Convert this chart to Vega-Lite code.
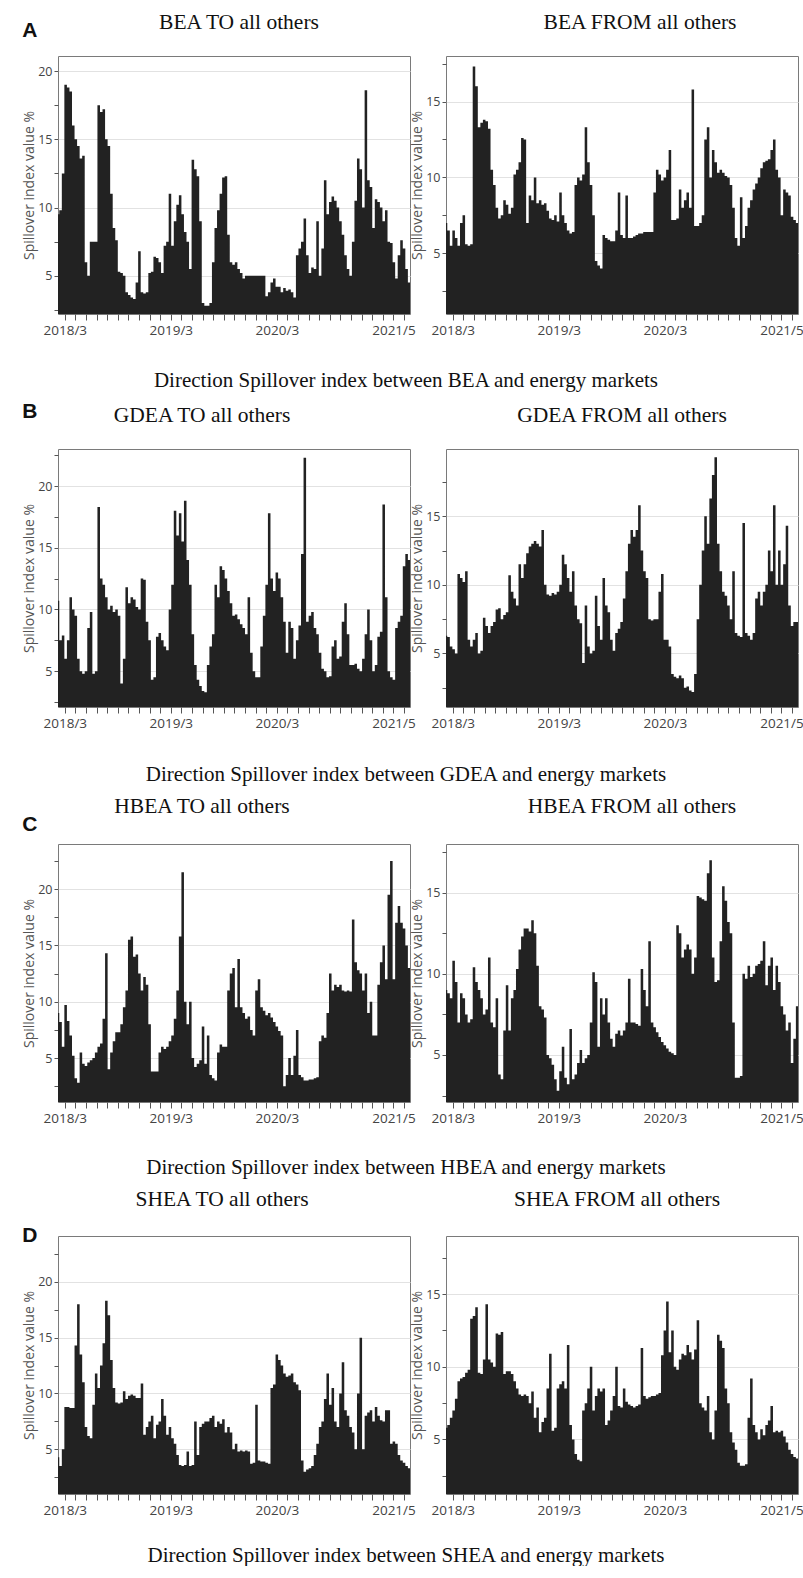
{
"$schema":"https://vega.github.io/schema/vega-lite/v6.json",
"background":"white",
"padding":{"left":22,"top":11,"right":0,"bottom":0},
"spacing":10,
"config":{
 "view":{"stroke":"#7a7a7a","strokeWidth":1},
 "title":{"font":"Liberation Serif","fontSize":21.5,"fontWeight":"normal","color":"#111","baseline":"alphabetic"},
 "axis":{"domain":false,"labelFont":"Open Sans","labelColor":"#444","tickColor":"#555","titleFont":"Open Sans","titleFontWeight":"normal","titleColor":"#555"},
 "axisX":{"grid":false,"tickSize":6,"labelFontSize":13.5,"labelPadding":3,"labelOverlap":false,"labelFlush":false},
 "axisY":{"tickSize":4,"labelFontSize":12.5,"labelPadding":2,"titleFontSize":14,"titlePadding":1,"labelOverlap":false}
},
"data":{"values":[
{"t":-16,"a1":9.5,"a2":7,"b1":10.7,"b2":6.3,"c1":9,"c2":9,"d1":4.3,"d2":5.8},
{"t":-10,"a1":9.8,"a2":6.5,"b1":7.5,"b2":6.2,"c1":8.2,"c2":8.8,"d1":3.5,"d2":6},
{"t":-4,"a1":12.5,"a2":5.5,"b1":7.9,"b2":5.5,"c1":6,"c2":8.5,"d1":5,"d2":6.5},
{"t":2,"a1":19,"a2":6.5,"b1":6,"b2":5.3,"c1":9.7,"c2":10.8,"d1":8.8,"d2":7},
{"t":8,"a1":18.8,"a2":6,"b1":7.5,"b2":5,"c1":8.3,"c2":9.5,"d1":8.8,"d2":7.8},
{"t":14,"a1":18.5,"a2":5.5,"b1":11,"b2":10.8,"c1":7,"c2":7,"d1":8.7,"d2":9},
{"t":20,"a1":16,"a2":7,"b1":10,"b2":10.5,"c1":5.2,"c2":8.8,"d1":8.7,"d2":9.2},
{"t":26,"a1":15,"a2":7.5,"b1":9.5,"b2":10.2,"c1":3.2,"c2":8.5,"d1":14.3,"d2":9.3},
{"t":32,"a1":14.5,"a2":5.6,"b1":6,"b2":11,"c1":2.8,"c2":7.5,"d1":18,"d2":9.6},
{"t":38,"a1":13.6,"a2":5.5,"b1":5,"b2":6,"c1":5.5,"c2":7,"d1":13.5,"d2":9.8},
{"t":44,"a1":13.8,"a2":5.6,"b1":4.8,"b2":5.5,"c1":4.5,"c2":7.2,"d1":11,"d2":13.3},
{"t":50,"a1":6,"a2":17.3,"b1":5,"b2":6,"c1":4.3,"c2":10.4,"d1":7,"d2":13.5},
{"t":56,"a1":5,"a2":16,"b1":8.5,"b2":6.5,"c1":4.6,"c2":9.5,"d1":6.2,"d2":14.1},
{"t":62,"a1":7.5,"a2":13.3,"b1":9.8,"b2":5,"c1":4.8,"c2":9,"d1":6,"d2":9.6},
{"t":68,"a1":7.5,"a2":13.6,"b1":4.8,"b2":5.2,"c1":5,"c2":8.5,"d1":9,"d2":9.5},
{"t":74,"a1":7.5,"a2":13.8,"b1":5,"b2":7.6,"c1":5.5,"c2":7.5,"d1":11.8,"d2":10.5},
{"t":80,"a1":17.5,"a2":13.7,"b1":18.3,"b2":7,"c1":6,"c2":7.8,"d1":10.5,"d2":14.3},
{"t":86,"a1":17,"a2":13.2,"b1":12.5,"b2":6.5,"c1":6.3,"c2":11,"d1":12.5,"d2":10.5},
{"t":92,"a1":17.2,"a2":10.5,"b1":12,"b2":7,"c1":8.5,"c2":7,"d1":14.5,"d2":10.3},
{"t":98,"a1":15,"a2":9.5,"b1":11,"b2":7.3,"c1":14.3,"c2":6.7,"d1":18.3,"d2":10},
{"t":104,"a1":14.5,"a2":8,"b1":10,"b2":8.2,"c1":4,"c2":8.5,"d1":17,"d2":12.3},
{"t":110,"a1":11,"a2":7.3,"b1":10.3,"b2":8.3,"c1":5.5,"c2":3.8,"d1":13,"d2":12.2},
{"t":116,"a1":8.5,"a2":7.5,"b1":9.8,"b2":7.5,"c1":6.5,"c2":3.5,"d1":10.5,"d2":12.4},
{"t":122,"a1":7.6,"a2":8.5,"b1":10,"b2":7.8,"c1":7.3,"c2":6.5,"d1":9.2,"d2":9.5},
{"t":128,"a1":5.3,"a2":8.2,"b1":9.5,"b2":8,"c1":7.3,"c2":9.3,"d1":9.1,"d2":9.7},
{"t":134,"a1":5.2,"a2":7.6,"b1":4,"b2":10.7,"c1":8,"c2":6.5,"d1":9.2,"d2":9.7},
{"t":140,"a1":5,"a2":8,"b1":6,"b2":9.5,"c1":9.5,"c2":8.5,"d1":10.2,"d2":9.5},
{"t":146,"a1":3.8,"a2":10.2,"b1":11.8,"b2":9,"c1":11,"c2":9,"d1":9.5,"d2":9},
{"t":152,"a1":3.6,"a2":10.5,"b1":10.5,"b2":8.5,"c1":15.5,"c2":10.3,"d1":9.8,"d2":8.5},
{"t":158,"a1":3.4,"a2":11,"b1":11,"b2":11.5,"c1":15.8,"c2":11.5,"d1":9.9,"d2":8.1},
{"t":164,"a1":3.3,"a2":12.6,"b1":10.8,"b2":10.5,"c1":14,"c2":12.3,"d1":9.8,"d2":8},
{"t":170,"a1":4.5,"a2":12.5,"b1":10.2,"b2":11.5,"c1":14.2,"c2":12.8,"d1":9.6,"d2":8.1},
{"t":176,"a1":6.8,"a2":7,"b1":10,"b2":12.3,"c1":12.5,"c2":12.8,"d1":9.6,"d2":8},
{"t":182,"a1":3.8,"a2":8.8,"b1":12.5,"b2":12.8,"c1":11,"c2":12.6,"d1":10.9,"d2":7.5},
{"t":188,"a1":3.7,"a2":8.5,"b1":12.4,"b2":13,"c1":12.2,"c2":13.3,"d1":6.3,"d2":8.3},
{"t":194,"a1":3.8,"a2":10,"b1":9,"b2":13.2,"c1":11.5,"c2":12.5,"d1":7,"d2":6.5},
{"t":200,"a1":5.2,"a2":8.3,"b1":7.5,"b2":13,"c1":8,"c2":10.5,"d1":7.5,"d2":7.2},
{"t":206,"a1":5.3,"a2":8.5,"b1":4.3,"b2":12.8,"c1":3.8,"c2":8,"d1":8,"d2":5.5},
{"t":212,"a1":6.4,"a2":8.2,"b1":4.5,"b2":14,"c1":3.8,"c2":7.8,"d1":6,"d2":6.2},
{"t":218,"a1":6.3,"a2":8.3,"b1":7.8,"b2":10,"c1":3.8,"c2":7.3,"d1":7.2,"d2":6.5},
{"t":224,"a1":6,"a2":7.8,"b1":8.1,"b2":9.3,"c1":5.5,"c2":5,"d1":7.5,"d2":8.5},
{"t":230,"a1":5.2,"a2":7.3,"b1":7.5,"b2":9.2,"c1":6,"c2":4.8,"d1":9.5,"d2":10.9},
{"t":236,"a1":7.2,"a2":7.2,"b1":7,"b2":9.4,"c1":5.8,"c2":4.4,"d1":8,"d2":5.6},
{"t":242,"a1":7.5,"a2":7.5,"b1":6.7,"b2":9.3,"c1":6,"c2":3.5,"d1":6.3,"d2":5.8},
{"t":248,"a1":11,"a2":7.1,"b1":10,"b2":9.5,"c1":6.5,"c2":2.8,"d1":7,"d2":8.5},
{"t":254,"a1":7.2,"a2":9,"b1":12,"b2":10,"c1":7,"c2":4,"d1":6,"d2":8.8},
{"t":260,"a1":9,"a2":7.5,"b1":18,"b2":12.2,"c1":8.5,"c2":5.5,"d1":5.5,"d2":9},
{"t":266,"a1":10.2,"a2":7,"b1":16,"b2":11.5,"c1":11,"c2":3.6,"d1":4.5,"d2":8.5},
{"t":272,"a1":10.9,"a2":6.5,"b1":17.8,"b2":10.5,"c1":15.8,"c2":3.2,"d1":3.6,"d2":11.5},
{"t":278,"a1":9.5,"a2":6.3,"b1":15.5,"b2":9.5,"c1":21.5,"c2":6.6,"d1":3.5,"d2":6},
{"t":284,"a1":8.2,"a2":6.4,"b1":18.8,"b2":11,"c1":10,"c2":3.5,"d1":3.6,"d2":5},
{"t":290,"a1":7.5,"a2":9.5,"b1":14,"b2":8.5,"c1":8,"c2":3.8,"d1":4.8,"d2":4},
{"t":296,"a1":5.5,"a2":10,"b1":12,"b2":7.5,"c1":10,"c2":4.5,"d1":3.5,"d2":3.6},
{"t":302,"a1":13.5,"a2":9.8,"b1":8,"b2":7.2,"c1":5,"c2":5.3,"d1":3.6,"d2":3.5},
{"t":308,"a1":12.8,"a2":10.2,"b1":5.5,"b2":4.3,"c1":4.2,"c2":4.5,"d1":7.5,"d2":7},
{"t":314,"a1":12.3,"a2":13.3,"b1":4.3,"b2":8.5,"c1":4.5,"c2":4.8,"d1":4.5,"d2":7.5},
{"t":320,"a1":9,"a2":11,"b1":3.8,"b2":5.5,"c1":4.8,"c2":5,"d1":7,"d2":8.5},
{"t":326,"a1":3,"a2":9.5,"b1":3.4,"b2":5,"c1":7.8,"c2":7,"d1":7.3,"d2":10},
{"t":332,"a1":2.8,"a2":7.5,"b1":3.3,"b2":5.2,"c1":4.5,"c2":10.1,"d1":7.5,"d2":7},
{"t":338,"a1":2.8,"a2":4.5,"b1":5.5,"b2":9.2,"c1":7,"c2":9.5,"d1":7.5,"d2":8},
{"t":344,"a1":3,"a2":4.2,"b1":7,"b2":7,"c1":3.5,"c2":5.5,"d1":7.8,"d2":8.5},
{"t":350,"a1":6,"a2":4,"b1":8,"b2":6,"c1":3.2,"c2":8.5,"d1":8,"d2":8.3},
{"t":356,"a1":8.5,"a2":6.2,"b1":12,"b2":10.5,"c1":3,"c2":7.5,"d1":7,"d2":8.5},
{"t":362,"a1":9.8,"a2":6,"b1":11,"b2":8.5,"c1":5.5,"c2":8.5,"d1":7.5,"d2":6},
{"t":368,"a1":11,"a2":5.9,"b1":13.5,"b2":8,"c1":6.2,"c2":7,"d1":7.3,"d2":6.3},
{"t":374,"a1":12.2,"a2":5.8,"b1":13.2,"b2":6,"c1":6,"c2":6,"d1":7.7,"d2":7},
{"t":380,"a1":12.3,"a2":5.8,"b1":12.5,"b2":5.2,"c1":6,"c2":5.5,"d1":6.5,"d2":8},
{"t":386,"a1":8,"a2":6.5,"b1":11.5,"b2":6.5,"c1":11,"c2":6.3,"d1":7,"d2":10},
{"t":392,"a1":6,"a2":9,"b1":10.5,"b2":6.8,"c1":12.5,"c2":6.5,"d1":6.5,"d2":7.3},
{"t":398,"a1":5.8,"a2":6.2,"b1":9.5,"b2":7.3,"c1":13,"c2":6.2,"d1":5,"d2":7.2},
{"t":404,"a1":6,"a2":6,"b1":9.6,"b2":9,"c1":9.5,"c2":6.5,"d1":5.5,"d2":8.5},
{"t":410,"a1":5.5,"a2":8.8,"b1":9.2,"b2":11,"c1":13.8,"c2":7,"d1":4.8,"d2":7.6},
{"t":416,"a1":5.2,"a2":6,"b1":8.8,"b2":13,"c1":9.5,"c2":9.7,"d1":4.9,"d2":7.4},
{"t":422,"a1":4.8,"a2":6,"b1":8.5,"b2":14,"c1":9,"c2":7,"d1":4.8,"d2":7.3},
{"t":428,"a1":5,"a2":6.1,"b1":8,"b2":13.5,"c1":8.5,"c2":7,"d1":4.9,"d2":7.2},
{"t":434,"a1":5,"a2":6.2,"b1":11,"b2":14,"c1":8.7,"c2":6.9,"d1":4.8,"d2":7.3},
{"t":440,"a1":5,"a2":6.3,"b1":6.5,"b2":15.8,"c1":7.5,"c2":6.8,"d1":3.7,"d2":7.4},
{"t":446,"a1":5,"a2":6.3,"b1":5,"b2":12.5,"c1":7,"c2":10.3,"d1":3.8,"d2":11.3},
{"t":452,"a1":5,"a2":6.4,"b1":4.5,"b2":11,"c1":11,"c2":9,"d1":9,"d2":8},
{"t":458,"a1":5,"a2":6.4,"b1":4.5,"b2":10.5,"c1":12,"c2":8,"d1":4,"d2":7.8},
{"t":464,"a1":5,"a2":6.4,"b1":7,"b2":7.5,"c1":9.5,"c2":12,"d1":3.9,"d2":7.9},
{"t":470,"a1":5,"a2":6.4,"b1":9.5,"b2":7.4,"c1":9.2,"c2":7,"d1":3.9,"d2":8},
{"t":476,"a1":3.5,"a2":9,"b1":12,"b2":7.5,"c1":8.8,"c2":6.7,"d1":3.8,"d2":8},
{"t":482,"a1":3.8,"a2":10.5,"b1":17.8,"b2":7.5,"c1":9,"c2":6.4,"d1":3.7,"d2":8.1},
{"t":488,"a1":4.5,"a2":10.2,"b1":12.5,"b2":9.5,"c1":8.6,"c2":6.1,"d1":10.5,"d2":8.2},
{"t":494,"a1":4.8,"a2":9.8,"b1":11.5,"b2":10.8,"c1":8.2,"c2":5.8,"d1":10.8,"d2":10.8},
{"t":500,"a1":4.2,"a2":10,"b1":13,"b2":6,"c1":7.8,"c2":5.6,"d1":13.5,"d2":12.5},
{"t":506,"a1":4.2,"a2":10.5,"b1":12.5,"b2":6,"c1":7.4,"c2":5.4,"d1":13,"d2":14.5},
{"t":512,"a1":3.8,"a2":11.8,"b1":11,"b2":5.5,"c1":7,"c2":5.2,"d1":12.5,"d2":11},
{"t":518,"a1":4.1,"a2":7.2,"b1":9,"b2":3.5,"c1":2.5,"c2":5.1,"d1":11.8,"d2":12.5},
{"t":524,"a1":3.9,"a2":7.2,"b1":6.5,"b2":3.3,"c1":3.5,"c2":5,"d1":11.5,"d2":10},
{"t":530,"a1":4,"a2":7.3,"b1":9,"b2":3.2,"c1":5,"c2":13,"d1":11.6,"d2":9.8},
{"t":536,"a1":3.8,"a2":9.2,"b1":8.5,"b2":3.4,"c1":3.5,"c2":12.5,"d1":11.8,"d2":10.5},
{"t":542,"a1":3.4,"a2":8,"b1":6,"b2":3.2,"c1":5.2,"c2":11,"d1":11,"d2":10.9},
{"t":548,"a1":6.5,"a2":8.5,"b1":7.5,"b2":2.5,"c1":7.5,"c2":11.5,"d1":10.8,"d2":10.8},
{"t":554,"a1":7,"a2":9,"b1":8.7,"b2":2.6,"c1":3.5,"c2":11.8,"d1":10.3,"d2":11.5},
{"t":560,"a1":7.5,"a2":8,"b1":14.5,"b2":2.3,"c1":3.3,"c2":11.5,"d1":4,"d2":11},
{"t":566,"a1":9.2,"a2":15.8,"b1":22.3,"b2":2.2,"c1":3,"c2":10,"d1":3,"d2":10.5},
{"t":572,"a1":6.5,"a2":6.8,"b1":9,"b2":3.5,"c1":3,"c2":11,"d1":3.2,"d2":11.2},
{"t":578,"a1":5.2,"a2":6.8,"b1":9.5,"b2":7.5,"c1":3.1,"c2":14.8,"d1":3.3,"d2":13.2},
{"t":584,"a1":5.6,"a2":7,"b1":9.8,"b2":10,"c1":3.1,"c2":14.7,"d1":3.5,"d2":7.5},
{"t":590,"a1":5.5,"a2":7.5,"b1":8.5,"b2":12.5,"c1":3.2,"c2":14.6,"d1":4.5,"d2":7.2},
{"t":596,"a1":9,"a2":12.5,"b1":8,"b2":15,"c1":3.3,"c2":14.5,"d1":5.5,"d2":7},
{"t":602,"a1":5,"a2":13.3,"b1":6.5,"b2":13,"c1":6.5,"c2":16.2,"d1":7,"d2":8},
{"t":608,"a1":7,"a2":10,"b1":5.2,"b2":16.3,"c1":7,"c2":17,"d1":7.5,"d2":5.5},
{"t":614,"a1":12,"a2":11.8,"b1":5,"b2":18,"c1":6.8,"c2":11,"d1":9.5,"d2":5},
{"t":620,"a1":9.5,"a2":11,"b1":4.5,"b2":19.3,"c1":9,"c2":9.5,"d1":11.8,"d2":7},
{"t":626,"a1":10.4,"a2":10.3,"b1":4.6,"b2":13,"c1":12.5,"c2":9.6,"d1":9,"d2":12.2},
{"t":632,"a1":10.8,"a2":10.5,"b1":7,"b2":11,"c1":11,"c2":12,"d1":10.5,"d2":11.8},
{"t":638,"a1":10.5,"a2":10.3,"b1":7.5,"b2":9.5,"c1":11.5,"c2":15.4,"d1":7.5,"d2":11.3},
{"t":644,"a1":10,"a2":10.1,"b1":6,"b2":9.2,"c1":11.3,"c2":14.5,"d1":7,"d2":8.5},
{"t":650,"a1":9,"a2":10,"b1":6.2,"b2":8.5,"c1":11.5,"c2":13.2,"d1":10,"d2":7.5},
{"t":656,"a1":8,"a2":9.5,"b1":9,"b2":7.5,"c1":11,"c2":12.5,"d1":12.8,"d2":5.5},
{"t":662,"a1":6.5,"a2":8,"b1":10.5,"b2":11,"c1":10.9,"c2":7,"d1":8.5,"d2":4.8},
{"t":668,"a1":5.5,"a2":6,"b1":8,"b2":6.5,"c1":11,"c2":3.6,"d1":8,"d2":4.3},
{"t":674,"a1":5,"a2":5.5,"b1":5.5,"b2":6.3,"c1":10.9,"c2":3.6,"d1":7,"d2":3.4},
{"t":680,"a1":7.5,"a2":8.7,"b1":5.5,"b2":6.2,"c1":17.3,"c2":3.7,"d1":6.5,"d2":3.2},
{"t":686,"a1":10.5,"a2":6,"b1":5.6,"b2":14.5,"c1":13.5,"c2":10,"d1":5,"d2":3.2},
{"t":692,"a1":13.6,"a2":6.8,"b1":5.2,"b2":6.5,"c1":12.8,"c2":9.7,"d1":10,"d2":3.3},
{"t":698,"a1":12.8,"a2":8,"b1":5,"b2":6.3,"c1":12.5,"c2":10.5,"d1":15,"d2":6.5},
{"t":704,"a1":10,"a2":8.5,"b1":6,"b2":6,"c1":11,"c2":9.8,"d1":5,"d2":9.2},
{"t":710,"a1":18.6,"a2":9.2,"b1":8,"b2":6.5,"c1":12.5,"c2":10,"d1":8,"d2":6},
{"t":716,"a1":12,"a2":9.6,"b1":10,"b2":9,"c1":9,"c2":10.5,"d1":8.3,"d2":5.5},
{"t":722,"a1":11.5,"a2":10,"b1":7.5,"b2":9.5,"c1":10,"c2":10.6,"d1":8.5,"d2":5},
{"t":728,"a1":8.5,"a2":10.6,"b1":5,"b2":8.5,"c1":7,"c2":10.8,"d1":7.5,"d2":5.7},
{"t":734,"a1":10.6,"a2":11,"b1":5.5,"b2":9.5,"c1":7,"c2":12,"d1":8.8,"d2":5.3},
{"t":740,"a1":10.4,"a2":11.1,"b1":7.8,"b2":10,"c1":11.5,"c2":9.3,"d1":8,"d2":6},
{"t":746,"a1":10,"a2":11.2,"b1":8.2,"b2":12.5,"c1":13.5,"c2":10.5,"d1":7.6,"d2":6.3},
{"t":752,"a1":9,"a2":11.8,"b1":18.5,"b2":11,"c1":15,"c2":11,"d1":7.5,"d2":7.3},
{"t":758,"a1":9.8,"a2":12.5,"b1":11,"b2":15.8,"c1":12,"c2":9,"d1":8.5,"d2":5.5},
{"t":764,"a1":7.5,"a2":10.5,"b1":5,"b2":10,"c1":19.5,"c2":10.5,"d1":8.5,"d2":5.6},
{"t":770,"a1":7.4,"a2":10,"b1":4.5,"b2":12.5,"c1":22.5,"c2":9.5,"d1":5.5,"d2":5.5},
{"t":776,"a1":6,"a2":7.5,"b1":4.3,"b2":10,"c1":12,"c2":8,"d1":5.7,"d2":5.6},
{"t":782,"a1":4.8,"a2":9.2,"b1":8.5,"b2":11.5,"c1":17,"c2":7.5,"d1":5.5,"d2":5.2},
{"t":788,"a1":6.5,"a2":9,"b1":9,"b2":14.3,"c1":18.5,"c2":6.5,"d1":4.5,"d2":4.8},
{"t":794,"a1":7.6,"a2":8.8,"b1":9.5,"b2":8.5,"c1":17,"c2":7,"d1":4,"d2":4.3},
{"t":800,"a1":7,"a2":7.4,"b1":13.5,"b2":7,"c1":16.5,"c2":4.5,"d1":3.8,"d2":4},
{"t":806,"a1":5.5,"a2":7.2,"b1":14.5,"b2":7.3,"c1":15,"c2":6,"d1":3.5,"d2":3.8},
{"t":812,"a1":4.5,"a2":7,"b1":14,"b2":7.3,"c1":13,"c2":8,"d1":3.3,"d2":3.7},
{"t":814,"a1":4.5,"a2":7,"b1":14,"b2":7.3,"c1":13,"c2":8,"d1":3.3,"d2":3.7}
]},
"vconcat":[
{"title":{"text":"Direction Spillover index between BEA and energy markets","orient":"bottom","anchor":"middle","fontSize":21,"offset":33,"dx":-7},
 "vconcat":[{
  "title":{"text":"A","anchor":"start","frame":"bounds","font":"Liberation Sans","fontWeight":"bold","fontSize":21,"offset":0,"dy":30},
  "spacing":36,"bounds":"flush",
  "hconcat":[
   {"width":352,"height":258,"title":{"text":"BEA TO all others","frame":"group","dx":5,"offset":23},
    "mark":{"type":"area","interpolate":"step","color":"#222","clip":true},
    "encoding":{
     "x":{"field":"t","type":"quantitative","scale":{"domain":[-16,814],"nice":false,"zero":false},"axis":{"title":null,"values":[0,25,50,75,100,125,150,175,200,225,250,275,300,325,350,375,400,425,450,475,500,525,550,575,600,625,650,675,700,725,750,775,800],"labelExpr":"datum.value===0?'2018/3':datum.value===250?'2019/3':datum.value===500?'2020/3':datum.value===775?'2021/5':''"}},
     "y":{"field":"a1","type":"quantitative","scale":{"domain":[2.2,21.1],"nice":false,"zero":false},"axis":{"title":"Spillover index value %","values":[2.5,5,7.5,10,12.5,15,17.5,20],"labelExpr":"datum.value % 5 === 0 ? datum.label : ''","gridColor":{"condition":{"test":"datum.value % 5 === 0","value":"#e2e2e2"},"value":"rgba(0,0,0,0)"}}}}},
   {"width":352,"height":258,"title":{"text":"BEA FROM all others","frame":"group","dx":18,"offset":23},
    "mark":{"type":"area","interpolate":"step","color":"#222","clip":true},
    "encoding":{
     "x":{"field":"t","type":"quantitative","scale":{"domain":[-16,814],"nice":false,"zero":false},"axis":{"title":null,"values":[0,25,50,75,100,125,150,175,200,225,250,275,300,325,350,375,400,425,450,475,500,525,550,575,600,625,650,675,700,725,750,775,800],"labelExpr":"datum.value===0?'2018/3':datum.value===250?'2019/3':datum.value===500?'2020/3':datum.value===775?'2021/5':''"}},
     "y":{"field":"a2","type":"quantitative","scale":{"domain":[1.0,18.0],"nice":false,"zero":false},"axis":{"title":"Spillover index value %","values":[2.5,5,7.5,10,12.5,15,17.5],"labelExpr":"datum.value % 5 === 0 ? datum.label : ''","gridColor":{"condition":{"test":"datum.value % 5 === 0","value":"#e2e2e2"},"value":"rgba(0,0,0,0)"}}}}}
  ]}]},
{"title":{"text":"Direction Spillover index between GDEA and energy markets","orient":"bottom","anchor":"middle","fontSize":21,"offset":34,"dx":-7},
 "vconcat":[{
  "title":{"text":"B","anchor":"start","frame":"bounds","font":"Liberation Sans","fontWeight":"bold","fontSize":21,"offset":0,"dy":18},
  "spacing":36,"bounds":"flush",
  "hconcat":[
   {"width":352,"height":258,"title":{"text":"GDEA TO all others","frame":"group","dx":-32,"offset":23},
    "mark":{"type":"area","interpolate":"step","color":"#222","clip":true},
    "encoding":{
     "x":{"field":"t","type":"quantitative","scale":{"domain":[-16,814],"nice":false,"zero":false},"axis":{"title":null,"values":[0,25,50,75,100,125,150,175,200,225,250,275,300,325,350,375,400,425,450,475,500,525,550,575,600,625,650,675,700,725,750,775,800],"labelExpr":"datum.value===0?'2018/3':datum.value===250?'2019/3':datum.value===500?'2020/3':datum.value===775?'2021/5':''"}},
     "y":{"field":"b1","type":"quantitative","scale":{"domain":[2.1,23.0],"nice":false,"zero":false},"axis":{"title":"Spillover index value %","values":[2.5,5,7.5,10,12.5,15,17.5,20,22.5],"labelExpr":"datum.value % 5 === 0 ? datum.label : ''","gridColor":{"condition":{"test":"datum.value % 5 === 0","value":"#e2e2e2"},"value":"rgba(0,0,0,0)"}}}}},
   {"width":352,"height":258,"title":{"text":"GDEA FROM all others","frame":"group","dx":0,"offset":23},
    "mark":{"type":"area","interpolate":"step","color":"#222","clip":true},
    "encoding":{
     "x":{"field":"t","type":"quantitative","scale":{"domain":[-16,814],"nice":false,"zero":false},"axis":{"title":null,"values":[0,25,50,75,100,125,150,175,200,225,250,275,300,325,350,375,400,425,450,475,500,525,550,575,600,625,650,675,700,725,750,775,800],"labelExpr":"datum.value===0?'2018/3':datum.value===250?'2019/3':datum.value===500?'2020/3':datum.value===775?'2021/5':''"}},
     "y":{"field":"b2","type":"quantitative","scale":{"domain":[1.1,19.9],"nice":false,"zero":false},"axis":{"title":"Spillover index value %","values":[2.5,5,7.5,10,12.5,15,17.5],"labelExpr":"datum.value % 5 === 0 ? datum.label : ''","gridColor":{"condition":{"test":"datum.value % 5 === 0","value":"#e2e2e2"},"value":"rgba(0,0,0,0)"}}}}}
  ]}]},
{"title":{"text":"Direction Spillover index between HBEA and energy markets","orient":"bottom","anchor":"middle","fontSize":21,"offset":32,"dx":-7},
 "vconcat":[{
  "title":{"text":"C","anchor":"start","frame":"bounds","font":"Liberation Sans","fontWeight":"bold","fontSize":21,"offset":0,"dy":40},
  "spacing":36,"bounds":"flush",
  "hconcat":[
   {"width":352,"height":258,"title":{"text":"HBEA TO all others","frame":"group","dx":-32,"offset":27},
    "mark":{"type":"area","interpolate":"step","color":"#222","clip":true},
    "encoding":{
     "x":{"field":"t","type":"quantitative","scale":{"domain":[-16,814],"nice":false,"zero":false},"axis":{"title":null,"values":[0,25,50,75,100,125,150,175,200,225,250,275,300,325,350,375,400,425,450,475,500,525,550,575,600,625,650,675,700,725,750,775,800],"labelExpr":"datum.value===0?'2018/3':datum.value===250?'2019/3':datum.value===500?'2020/3':datum.value===775?'2021/5':''"}},
     "y":{"field":"c1","type":"quantitative","scale":{"domain":[1.1,24.0],"nice":false,"zero":false},"axis":{"title":"Spillover index value %","values":[2.5,5,7.5,10,12.5,15,17.5,20,22.5],"labelExpr":"datum.value % 5 === 0 ? datum.label : ''","gridColor":{"condition":{"test":"datum.value % 5 === 0","value":"#e2e2e2"},"value":"rgba(0,0,0,0)"}}}}},
   {"width":352,"height":258,"title":{"text":"HBEA FROM all others","frame":"group","dx":10,"offset":27},
    "mark":{"type":"area","interpolate":"step","color":"#222","clip":true},
    "encoding":{
     "x":{"field":"t","type":"quantitative","scale":{"domain":[-16,814],"nice":false,"zero":false},"axis":{"title":null,"values":[0,25,50,75,100,125,150,175,200,225,250,275,300,325,350,375,400,425,450,475,500,525,550,575,600,625,650,675,700,725,750,775,800],"labelExpr":"datum.value===0?'2018/3':datum.value===250?'2019/3':datum.value===500?'2020/3':datum.value===775?'2021/5':''"}},
     "y":{"field":"c2","type":"quantitative","scale":{"domain":[2.1,18.0],"nice":false,"zero":false},"axis":{"title":"Spillover index value %","values":[2.5,5,7.5,10,12.5,15,17.5],"labelExpr":"datum.value % 5 === 0 ? datum.label : ''","gridColor":{"condition":{"test":"datum.value % 5 === 0","value":"#e2e2e2"},"value":"rgba(0,0,0,0)"}}}}}
  ]}]},
{"title":{"text":"Direction Spillover index between SHEA and energy markets","orient":"bottom","anchor":"middle","fontSize":21,"offset":28,"dx":-7},
 "vconcat":[{
  "title":{"text":"D","anchor":"start","frame":"bounds","font":"Liberation Sans","fontWeight":"bold","fontSize":21,"offset":0,"dy":58},
  "spacing":36,"bounds":"flush",
  "hconcat":[
   {"width":352,"height":258,"title":{"text":"SHEA TO all others","frame":"group","dx":-12,"offset":26},
    "mark":{"type":"area","interpolate":"step","color":"#222","clip":true},
    "encoding":{
     "x":{"field":"t","type":"quantitative","scale":{"domain":[-16,814],"nice":false,"zero":false},"axis":{"title":null,"values":[0,25,50,75,100,125,150,175,200,225,250,275,300,325,350,375,400,425,450,475,500,525,550,575,600,625,650,675,700,725,750,775,800],"labelExpr":"datum.value===0?'2018/3':datum.value===250?'2019/3':datum.value===500?'2020/3':datum.value===775?'2021/5':''"}},
     "y":{"field":"d1","type":"quantitative","scale":{"domain":[1.0,24.1],"nice":false,"zero":false},"axis":{"title":"Spillover index value %","values":[2.5,5,7.5,10,12.5,15,17.5,20,22.5],"labelExpr":"datum.value % 5 === 0 ? datum.label : ''","gridColor":{"condition":{"test":"datum.value % 5 === 0","value":"#e2e2e2"},"value":"rgba(0,0,0,0)"}}}}},
   {"width":352,"height":258,"title":{"text":"SHEA FROM all others","frame":"group","dx":-5,"offset":26},
    "mark":{"type":"area","interpolate":"step","color":"#222","clip":true},
    "encoding":{
     "x":{"field":"t","type":"quantitative","scale":{"domain":[-16,814],"nice":false,"zero":false},"axis":{"title":null,"values":[0,25,50,75,100,125,150,175,200,225,250,275,300,325,350,375,400,425,450,475,500,525,550,575,600,625,650,675,700,725,750,775,800],"labelExpr":"datum.value===0?'2018/3':datum.value===250?'2019/3':datum.value===500?'2020/3':datum.value===775?'2021/5':''"}},
     "y":{"field":"d2","type":"quantitative","scale":{"domain":[1.25,19.0],"nice":false,"zero":false},"axis":{"title":"Spillover index value %","values":[2.5,5,7.5,10,12.5,15,17.5],"labelExpr":"datum.value % 5 === 0 ? datum.label : ''","gridColor":{"condition":{"test":"datum.value % 5 === 0","value":"#e2e2e2"},"value":"rgba(0,0,0,0)"}}}}}
  ]}]}
]
}
